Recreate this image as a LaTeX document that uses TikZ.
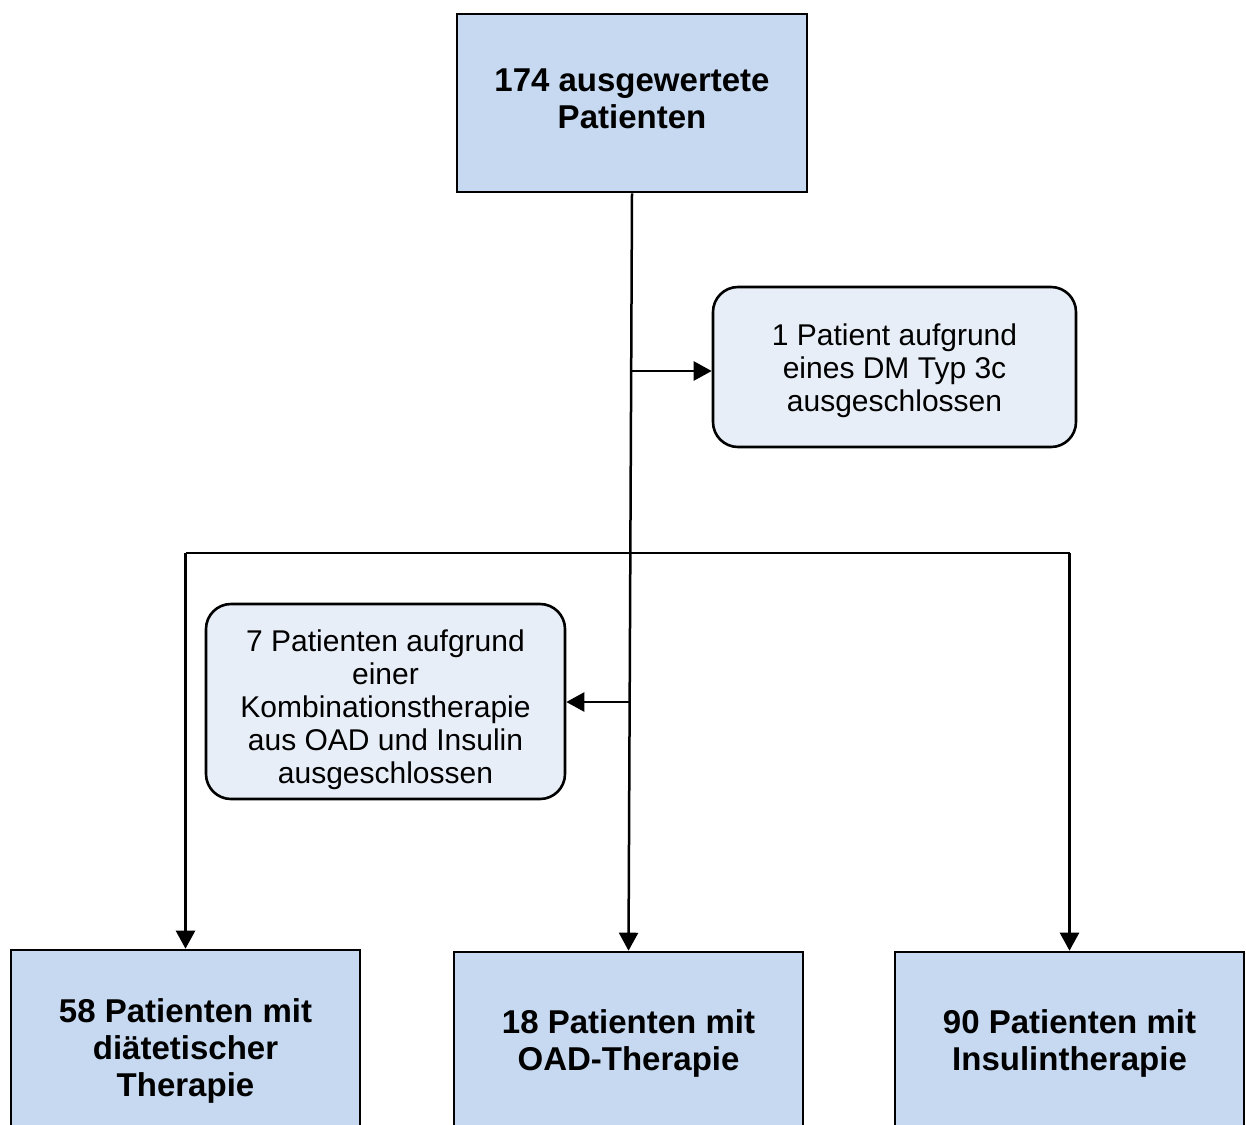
\documentclass[tikz,border=0pt]{standalone}
\usepackage{fontspec}
\setmainfont{Liberation Sans}
\usetikzlibrary{arrows.meta}
\definecolor{boxblue}{RGB}{198,217,241}
\definecolor{boxlight}{RGB}{232,238,247}
\begin{document}
\begin{tikzpicture}[x=0.5pt,y=-0.5pt,
  mainbox/.style={draw=black,line width=1.3pt,fill=boxblue,inner sep=0pt},
  exbox/.style={draw=black,line width=1.3pt,fill=boxlight,rounded corners=12.5pt,inner sep=0pt},
  boldtext/.style={align=center,font=\fontsize{16.5pt}{18.5pt}\selectfont\bfseries,inner sep=0pt},
  plaintext/.style={align=center,font=\fontsize{15pt}{16.5pt}\selectfont,inner sep=0pt},
  conn/.style={line width=1.25pt,draw=black},
  arr/.style={conn,-{Triangle[length=9pt,width=9.5pt]}}]
\useasboundingbox (0,0) rectangle (1246,1124);
\clip (0,0) rectangle (1246,1124);
\node[mainbox,minimum width=175pt,minimum height=89pt] (top) at (632,103) {};
\node[boldtext] (toptext) at (632,99) {174 ausgewertete\\Patienten};
\node[exbox,minimum width=181.5pt,minimum height=80pt] (ex1) at (894.5,367) {};
\node[plaintext] (ex1text) at (894.5,371) {1 Patient aufgrund\\eines DM Typ 3c\\ausgeschlossen};
\node[exbox,minimum width=179.5pt,minimum height=97.5pt] (ex2) at (385.5,701.5) {};
\node[plaintext] (ex2text) at (385.5,709.5) {7 Patienten aufgrund\\einer\\Kombinationstherapie\\aus OAD und Insulin\\ausgeschlossen};
\node[mainbox,minimum width=174.5pt,minimum height=97pt] (b1) at (185.5,1047) {};
\node[boldtext] (b1text) at (185.5,1051) {58 Patienten mit\\diätetischer\\Therapie};
\node[mainbox,minimum width=174.5pt,minimum height=88pt] (b2) at (628.5,1040) {};
\node[boldtext] (b2text) at (628.5,1043) {18 Patienten mit\\OAD-Therapie};
\node[mainbox,minimum width=174.5pt,minimum height=88pt] (b3) at (1069.5,1040) {};
\node[boldtext] (b3text) at (1069.5,1043) {90 Patienten mit\\Insulintherapie};
\coordinate (j1) at (631.5,371);
\coordinate (j2) at (630.5,702);
\coordinate (h) at (631,553);
\draw[arr] (top.south) -- (b2.north);
\draw[arr] (j1) -- (j1 -| ex1.west);
\draw[arr] (j2) -- (j2 -| ex2.east);
\draw[conn] (h -| b1.north) -- (h -| b3.north);
\draw[arr] (h -| b1.north) -- (b1.north);
\draw[arr] (h -| b3.north) -- (b3.north);
\end{tikzpicture}
\end{document}
